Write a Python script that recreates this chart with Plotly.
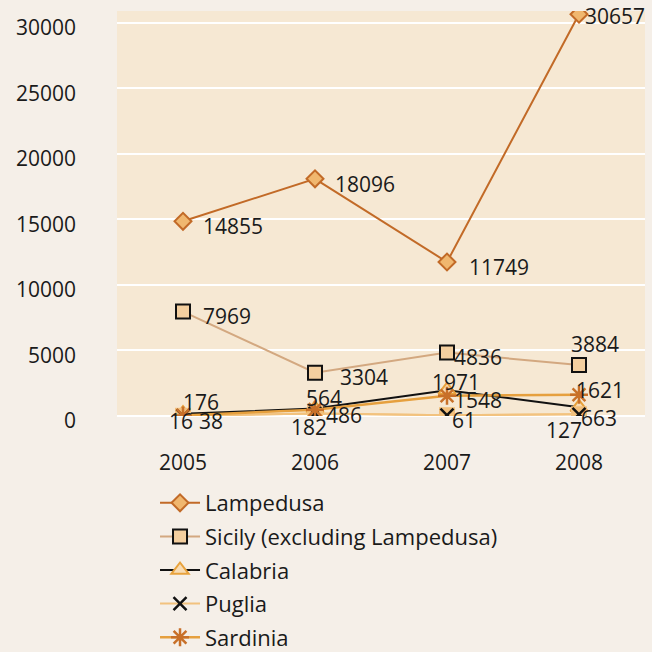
import plotly.graph_objects as go

years = ["2005", "2006", "2007", "2008"]
lampedusa = [14855, 18096, 11749, 30657]
sicily = [7969, 3304, 4836, 3884]
calabria = [176, 564, 1971, 663]
puglia = [16, 182, 61, 127]
sardinia = [38, 486, 1548, 1621]
y_ticks = [0, 5000, 10000, 15000, 20000, 25000, 30000]

FONT = "Open Sans"
TXT = "#1a1a1a"

fig = go.Figure()

fig.add_trace(go.Scatter(
    x=years, y=lampedusa, name="Lampedusa", mode="lines+markers", legendgroup="a",
    line=dict(color="#c26a27", width=2),
    marker=dict(symbol="diamond", size=13, color="#f0b76f",
                line=dict(color="#c26a27", width=2)),
))
fig.add_trace(go.Scatter(
    x=years, y=sicily, name="Sicily (excluding Lampedusa)", mode="lines+markers", legendgroup="b",
    line=dict(color="#d3a880", width=2),
    marker=dict(symbol="square", size=14, color="#f4cf9f",
                line=dict(color="#111111", width=2)),
))
fig.add_trace(go.Scatter(
    x=years, y=calabria, name="Calabria", mode="lines+markers", legendgroup="c",
    line=dict(color="#111111", width=2),
    marker=dict(symbol="triangle-up", size=15, color="#f8dcb4",
                line=dict(color="#e8a23c", width=2)),
))
# Puglia: orange square backing under a black cross
fig.add_trace(go.Scatter(
    x=years, y=puglia, name="Puglia", mode="lines+markers", legendgroup="d",
    showlegend=False,
    line=dict(color="#f2c27e", width=2),
    marker=dict(symbol="square", size=16, color="#f2bf7c", line=dict(width=0)),
))
fig.add_trace(go.Scatter(
    x=years, y=puglia, name="Puglia", mode="lines+markers", legendgroup="d",
    line=dict(color="#f2c27e", width=2),
    marker=dict(symbol="x-thin-open", size=13, color="#111111",
                line=dict(color="#111111", width=2.5)),
))
fig.add_trace(go.Scatter(
    x=years, y=sardinia, name="Sardinia", mode="lines+markers", legendgroup="e",
    line=dict(color="#e6a03e", width=2.5),
    marker=dict(symbol="asterisk-open", size=15, color="#c87029",
                line=dict(color="#c87029", width=2.5)),
))

# value labels, each nudged away from its marker
label_shift = {
    "lampedusa": [(50, -5), (50, -5), (52, -5), (36, -2)],
    "sicily": [(44, -4), (49, -4), (31, -4), (16, 21)],
    "calabria": [(18, 12), (9, 11), (9, 8), (20, -11)],
    "puglia": [(-2, -5), (-6, -13), (17, -5), (-15, -16)],
    "sardinia": [(28, -5), (29, -5), (31, -4), (21, 5)],
}
series = {"lampedusa": lampedusa, "sicily": sicily, "calabria": calabria,
          "puglia": puglia, "sardinia": sardinia}
for key, vals in series.items():
    for i, (v, (dx, dy)) in enumerate(zip(vals, label_shift[key])):
        fig.add_annotation(x=i, y=v, xref="x", yref="y", text=str(v),
                           showarrow=False, xshift=dx, yshift=dy,
                           font=dict(family=FONT, size=21, color=TXT))

fig.update_layout(
    width=652, height=652,
    margin=dict(l=117, r=7, t=11, b=236, autoexpand=False),
    paper_bgcolor="#f5efe8",
    plot_bgcolor="#f6e8d3",
    font=dict(family=FONT, size=21, color=TXT),
    showlegend=True,
    legend=dict(
        x=0.072, xanchor="left", y=-0.163, yanchor="top",
        bgcolor="rgba(0,0,0,0)", font=dict(family=FONT, size=22, color=TXT),
        traceorder="grouped", tracegroupgap=2, itemwidth=40,
    ),
)
fig.update_xaxes(
    type="category", range=[-0.5, 3.5], showgrid=False, zeroline=False,
    showline=False, ticks="", ticklabelstandoff=32,
    tickfont=dict(family=FONT, size=21, color=TXT),
)
fig.update_yaxes(
    range=[0, 30900], tickvals=y_ticks, ticktext=[str(t) for t in y_ticks],
    showgrid=True, gridcolor="#ffffff",
    gridwidth=2, zeroline=True, zerolinecolor="#ffffff", zerolinewidth=2,
    showline=False, ticks="", ticklabelstandoff=40, ticklabelshift=5,
    tickfont=dict(family=FONT, size=21, color=TXT),
)

fig.write_html("out.html")
